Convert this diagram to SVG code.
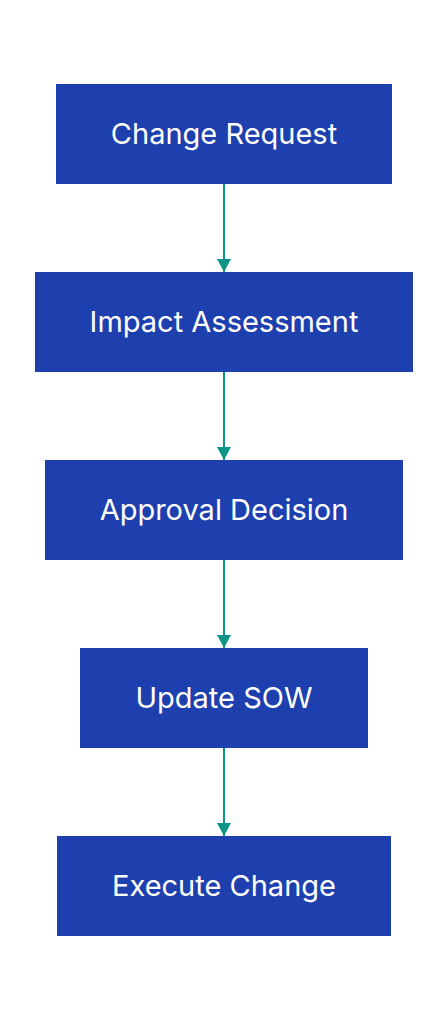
<svg xmlns="http://www.w3.org/2000/svg" width="448" height="1020" viewBox="0 0 448 1020">
<style>
.box{fill:#1e40af;}
.lbl{fill:#ffffff;font-family:Inter,"Noto Sans",sans-serif;font-size:29px;text-anchor:middle;}
.edge{stroke:#0d9488;stroke-width:2;fill:none;}
</style>
<defs>
<marker id="ah" viewBox="0 0 13 14" refX="13" refY="7" markerWidth="13" markerHeight="14" markerUnits="userSpaceOnUse" orient="auto">
<path d="M0,0 L13,7 L0,14 Z" fill="#0d9488"/>
</marker>
</defs>
<rect width="448" height="1020" fill="#ffffff"/>
<g id="connectors">
<line class="edge" x1="224" y1="184" x2="224" y2="272" marker-end="url(#ah)"/>
<line class="edge" x1="224" y1="372" x2="224" y2="460" marker-end="url(#ah)"/>
<line class="edge" x1="224" y1="560" x2="224" y2="648" marker-end="url(#ah)"/>
<line class="edge" x1="224" y1="748" x2="224" y2="836" marker-end="url(#ah)"/>
</g>
<g id="change-request">
<rect class="box" x="56" y="84" width="336" height="100"/>
<text class="lbl" x="224" y="144">Change Request</text>
</g>
<g id="impact-assessment">
<rect class="box" x="35" y="272" width="378" height="100"/>
<text class="lbl" x="224" y="332">Impact Assessment</text>
</g>
<g id="approval-decision">
<rect class="box" x="45" y="460" width="358" height="100"/>
<text class="lbl" x="224" y="520">Approval Decision</text>
</g>
<g id="update-sow">
<rect class="box" x="80" y="648" width="288" height="100"/>
<text class="lbl" x="224" y="708">Update SOW</text>
</g>
<g id="execute-change">
<rect class="box" x="57" y="836" width="334" height="100"/>
<text class="lbl" x="224" y="896">Execute Change</text>
</g>
</svg>
